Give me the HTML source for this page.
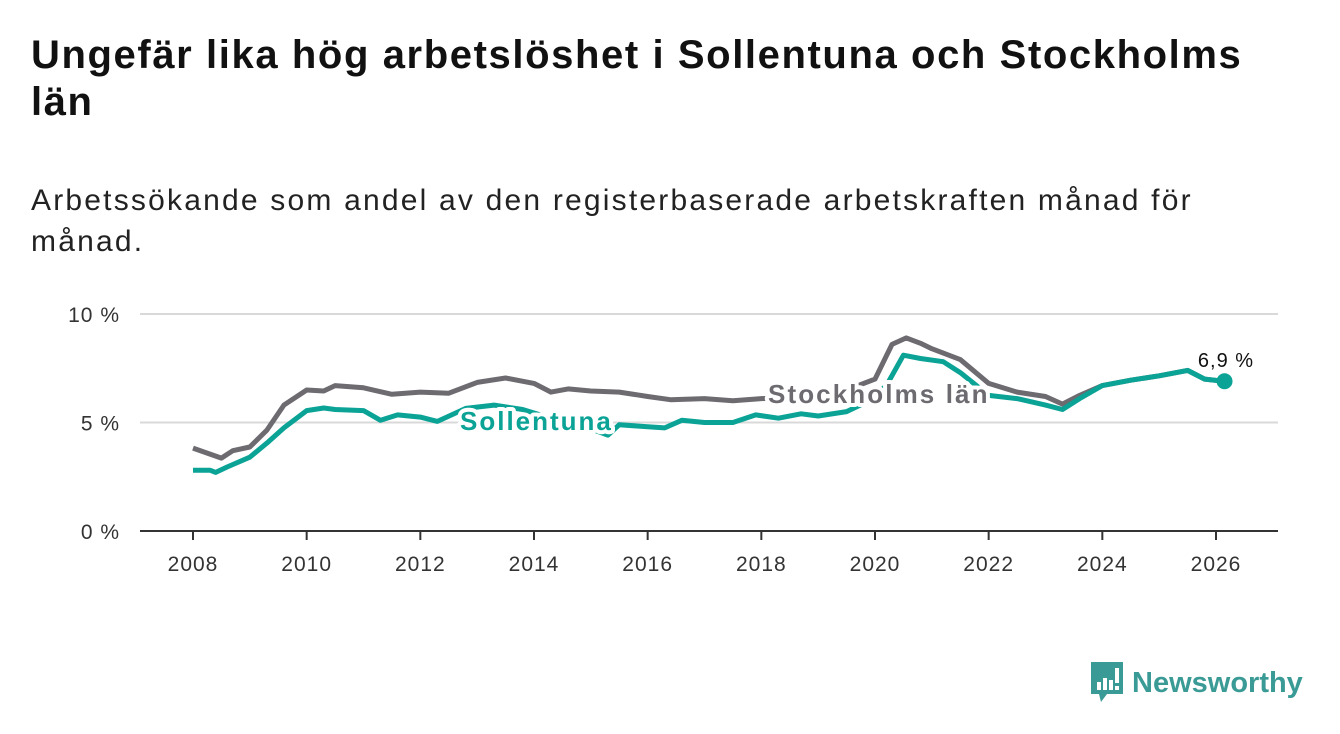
<!DOCTYPE html>
<html><head><meta charset="utf-8"><style>
body{margin:0;background:#fff;width:1340px;height:734px;overflow:hidden;font-family:"Liberation Sans",sans-serif;color:#111}
h1{position:absolute;left:31px;top:32px;margin:0;font-size:40px;line-height:47px;font-weight:bold;letter-spacing:1.6px;width:1300px}
.sub{position:absolute;left:31px;top:180px;margin:0;font-size:30px;line-height:41px;letter-spacing:2.2px;width:1300px;color:#222}
svg{position:absolute;left:0;top:0}
</style></head><body>
<h1>Ungefär lika hög arbetslöshet i Sollentuna och Stockholms<br>län</h1>
<p class="sub">Arbetssökande som andel av den registerbaserade arbetskraften månad för<br>månad.</p>
<svg id="chart" width="1340" height="734"></svg>
<div style="position:absolute;left:1089px;top:662px;display:flex;align-items:center">
<svg width="36" height="42" style="position:static"><path d="M2 0H34V32H18L12 40L10 32H2Z" fill="#3a9a95"/><rect x="8" y="20" width="4" height="8" fill="#fff"/><rect x="14" y="16" width="4" height="12" fill="#fff"/><rect x="20" y="18" width="4" height="10" fill="#fff"/><rect x="26" y="6" width="4" height="15" fill="#fff"/><rect x="26" y="24" width="4" height="4" fill="#fff"/></svg>
<span style="font-size:29px;color:#3a9a95;margin-left:7px;font-weight:bold">Newsworthy</span></div>
<script>
const yTicks=[0,5,10];
const xTicks=[2008,2010,2012,2014,2016,2018,2020,2022,2024,2026];
const stoDates=[2008,2008.5,2008.7,2009,2009.3,2009.6,2010,2010.3,2010.5,2011,2011.5,2012,2012.5,2013,2013.5,2014,2014.3,2014.6,2015,2015.5,2016,2016.4,2017,2017.5,2018,2018.5,2019,2019.5,2020,2020.3,2020.55,2020.8,2021,2021.5,2022,2022.5,2023,2023.3,2023.6,2024,2024.5,2025,2025.5,2025.8,2026.15];
const stoVals=[3.82,3.36,3.7,3.87,4.65,5.8,6.5,6.45,6.7,6.6,6.3,6.4,6.35,6.85,7.05,6.8,6.4,6.55,6.45,6.4,6.2,6.05,6.1,6.0,6.1,6.15,6.3,6.5,7.0,8.6,8.9,8.65,8.4,7.9,6.8,6.4,6.2,5.85,6.25,6.7,6.95,7.15,7.4,7.0,6.9];
const solDates=[2008,2008.3,2008.4,2008.6,2009,2009.3,2009.6,2010,2010.3,2010.5,2011,2011.3,2011.6,2012,2012.3,2012.8,2013.3,2013.8,2014.3,2014.8,2015.3,2015.5,2016,2016.3,2016.6,2017,2017.5,2017.9,2018.3,2018.7,2019,2019.5,2019.9,2020.2,2020.5,2020.8,2021.2,2021.5,2022,2022.5,2023,2023.3,2023.6,2024,2024.5,2025,2025.5,2025.8,2026.15];
const solVals=[2.8,2.8,2.7,2.95,3.4,4.05,4.75,5.55,5.67,5.6,5.55,5.1,5.35,5.25,5.05,5.65,5.8,5.6,5.2,4.9,4.42,4.9,4.8,4.75,5.1,5.0,5.0,5.35,5.2,5.4,5.3,5.5,6.0,6.7,8.1,7.95,7.8,7.3,6.25,6.1,5.8,5.6,6.1,6.7,6.95,7.15,7.4,7.0,6.9];
const NS="http://www.w3.org/2000/svg",svg=document.getElementById('chart');
const x=v=>193+(v-2008)*(1216-193)/18, y=v=>531-v*21.7;
function mk(t,a,p){const e=document.createElementNS(NS,t);for(const k in a)e.setAttribute(k,a[k]);(p||svg).appendChild(e);return e;}
yTicks.forEach(t=>{
 const l=mk('line',{x1:140,x2:1278,y1:y(t),y2:y(t),stroke:t?'#d9d9d9':'#333','stroke-width':2});
 
 
 const tx=mk('text',{x:120,y:y(t)+8,'text-anchor':'end','font-size':21,fill:'#333','letter-spacing':1});tx.textContent=t+' %';
 
 
});
xTicks.forEach(t=>{
 const l=mk('line',{x1:x(t),x2:x(t),y1:531,y2:540,stroke:'#333','stroke-width':2});
 
 
 const tx=mk('text',{x:x(t),y:571,'text-anchor':'middle','font-size':21,fill:'#333','letter-spacing':1});tx.textContent=t;
 
 
});
function line(d,v,c,n){const p=mk('path',{d:d.map((t,i)=>(i?'L':'M')+x(t).toFixed(1)+' '+y(v[i]).toFixed(1)).join(''),fill:'none',stroke:c,'stroke-width':5,'stroke-linejoin':'round'});
 
 }
line(stoDates,stoVals,'#6d6a70','stockholms-lan-line');
line(solDates,solVals,'#0aa396','sollentuna-line');
const dot=mk('circle',{cx:x(solDates[solDates.length-1]),cy:y(solVals[solVals.length-1]),r:8,fill:'#0aa396'});


const lv=mk('text',{x:1226,y:367,'text-anchor':'middle','font-size':20,fill:'#111','letter-spacing':1});lv.textContent='6,9 %';


const a=mk('text',{x:460,y:430,'font-size':26,'font-weight':'bold',fill:'#0aa396',stroke:'#fff','stroke-width':8,'paint-order':'stroke','stroke-linejoin':'round','letter-spacing':2});a.textContent='Sollentuna';


const b=mk('text',{x:768,y:403,'font-size':26,'font-weight':'bold',fill:'#6d6a70',stroke:'#fff','stroke-width':8,'paint-order':'stroke','stroke-linejoin':'round','letter-spacing':2.1});b.textContent='Stockholms län';


</script>
</body></html>
